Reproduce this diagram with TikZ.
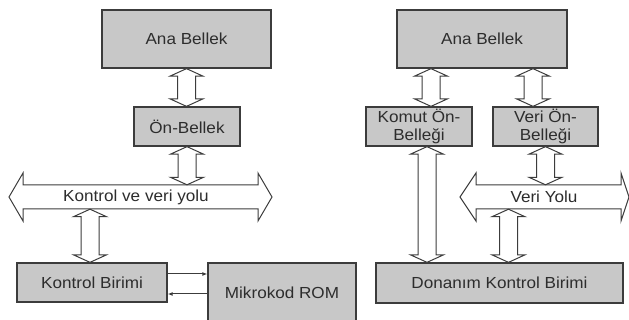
\documentclass[tikz,border=0pt]{standalone}
\usepackage{fontspec}
\setmainfont{Liberation Sans}[FakeStretch=1.07]
\usetikzlibrary{calc,arrows.meta}
\definecolor{boxfill}{RGB}{200,200,200}
\definecolor{edge}{RGB}{60,60,60}
\definecolor{txt}{RGB}{45,45,45}
\tikzset{
  box/.style={draw=edge, fill=boxfill, line width=1.3pt, inner sep=0pt,
    text=txt, font=\fontsize{16}{18}\selectfont, align=center},
  buslabel/.style={inner sep=0pt, minimum height=24pt, text=txt,
    font=\fontsize{16}{18}\selectfont},
  vdbl/.style={draw=edge, fill=white, line width=1pt, line join=miter,
    to path={let \p1=([xshift=#1pt]\tikztostart), \p2=(\tikztotarget) in
      (\x1,\y1) -- (\x1+16.5pt,\y1-7.5pt) -- (\x1+9pt,\y1-7.5pt)
      -- (\x1+9pt,\y2+7.5pt) -- (\x1+16.5pt,\y2+7.5pt) -- (\x1,\y2)
      -- (\x1-16.5pt,\y2+7.5pt) -- (\x1-9pt,\y2+7.5pt)
      -- (\x1-9pt,\y1-7.5pt) -- (\x1-16.5pt,\y1-7.5pt) -- cycle}},
  vdbl/.default=0,
  busshape/.style={draw=edge, fill=white, line width=1pt, line join=miter},
  small/.style={draw=edge, line width=1pt, -{Latex[length=5pt,width=4pt]}}
}
\begin{document}
\begin{tikzpicture}[x=1pt,y=-1pt]
\useasboundingbox (0,0) rectangle (629,320);
% ---------- left ----------
\node[box, minimum width=169pt, minimum height=58pt] (anaL) at (186.5,39) {Ana Bellek};
\node[box, minimum width=106pt, minimum height=39pt] (onL) at (187,126.5) {Ön-Bellek};
\node[box, minimum width=150pt, minimum height=39pt] (kb) at (92,282.5) {Kontrol Birimi};
\node[box, minimum width=148pt, minimum height=59pt, text depth=0pt] (rom) at (282,292.5) {Mikrokod ROM};
% bus left
\draw[busshape] (9,197) -- (23,173) -- (23,185) -- (258,185) -- (258,173) -- (272,197)
  -- (258,221) -- (258,209) -- (23,209) -- (23,221) -- cycle;
\node[buslabel] (busL) at (136,197) {Kontrol ve veri yolu};
\draw[vdbl] (anaL.south) to (onL.north);
\draw[vdbl] (onL.south) to (busL.north);
\draw[vdbl=-46] (busL.south) to (kb.north);
\coordinate (k1) at ([yshift=8.5pt]kb.east);
\coordinate (k2) at ([yshift=-11.5pt]kb.east);
\draw[small] (k1) -- (k1 -| rom.west);
\draw[small] (k2 -| rom.west) -- (k2);
% ---------- right ----------
\node[box, minimum width=170pt, minimum height=58pt] (anaR) at (482,39) {Ana Bellek};
\node[box, minimum width=106pt, minimum height=39pt] (komut) at (419,126.5) {Komut Ön-\\Belleği};
\node[box, minimum width=105pt, minimum height=39pt] (veri) at (545.5,126.5) {Veri Ön-\\Belleği};
\node[box, minimum width=247pt, minimum height=40pt] (don) at (499.5,283) {Donanım Kontrol Birimi};
% bus right
\draw[busshape] (460,197) -- (476,173) -- (476,185) -- (621,185) -- (621,173) -- (629,197)
  -- (621,221) -- (621,209) -- (476,209) -- (476,221) -- cycle;
\node[buslabel] (busR) at (544,197) {Veri Yolu};
\draw[vdbl=-51] (anaR.south) to (komut.north);
\draw[vdbl=51] (anaR.south) to (veri.north);
\draw[vdbl=8] (komut.south) to (don.north);
\draw[vdbl] (veri.south) to (busR.north);
\draw[vdbl=-35.5] (busR.south) to (don.north);
\end{tikzpicture}
\end{document}
